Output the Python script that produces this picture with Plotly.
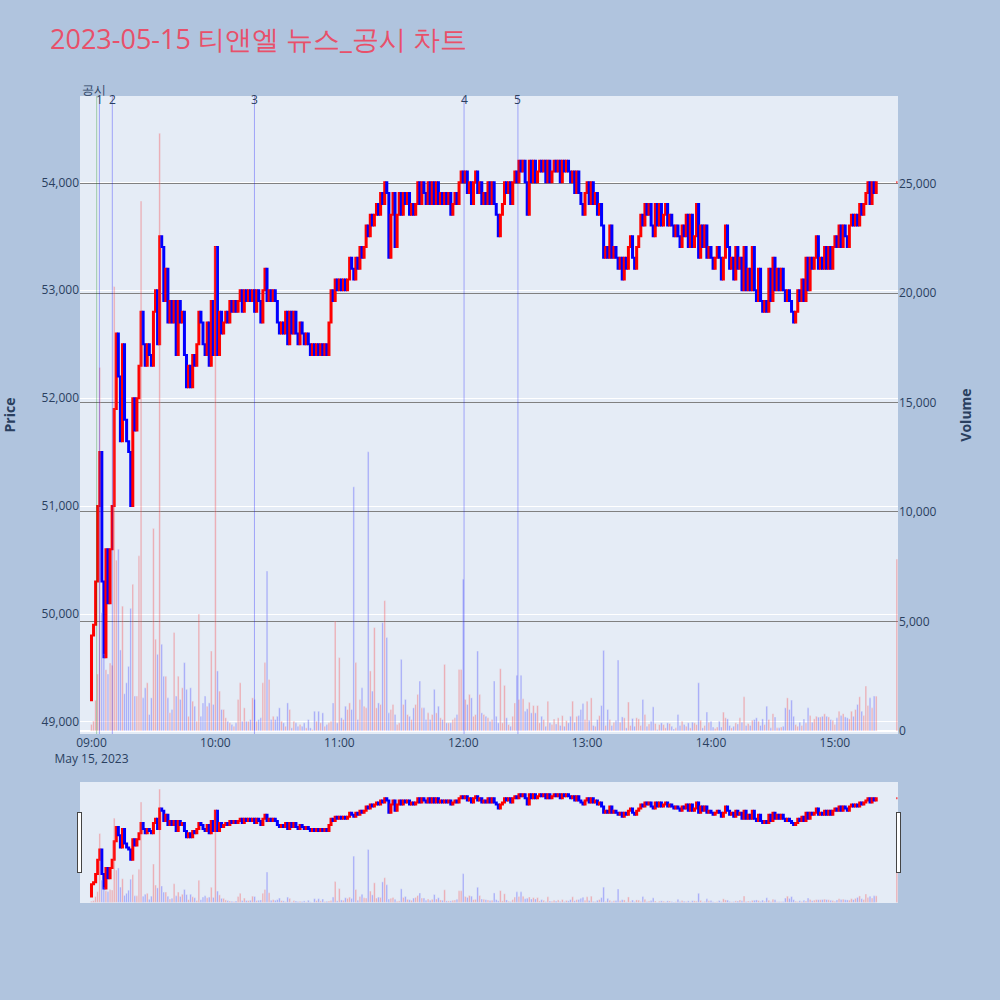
import pandas as pd
import plotly.graph_objects as go
from plotly.subplots import make_subplots

# 2023-05-15 티앤엘 1분봉 (09:00 ~ 15:20) + 15:30 종가
day = '2023-05-15'
first_open = 49200

close_prices = [
    49800, 49900, 50300, 51000, 51500, 50300, 49600, 50600, 50100, 50600,
    51000, 51900, 52600, 52200, 51600, 52500, 51800, 51600, 51500, 51000,
    52000, 51700, 52000, 52300, 52800, 52500, 52300, 52500, 52400, 52300,
    52800, 53000, 52500, 53500, 53400, 52900, 53200, 52700, 52900, 52700,
    52900, 52400, 52900, 52700, 52800, 52400, 52100, 52300, 52100, 52400,
    52300, 52500, 52800, 52700, 52500, 52400, 52700, 52300, 52900, 52400,
    53400, 52400, 52800, 52600, 52700, 52800, 52700, 52900, 52800, 52900,
    52800, 52900, 53000, 52800, 53000, 52900, 53000, 52900, 53000, 52800,
    53000, 52900, 52700, 53000, 53200, 52900, 53000, 52900, 53000, 52900,
    52700, 52600, 52700, 52600, 52800, 52500, 52800, 52600, 52800, 52600,
    52500, 52700, 52600, 52500, 52600, 52500, 52400, 52500, 52400, 52500,
    52400, 52500, 52400, 52500, 52400, 52700, 53000, 52900, 53100, 53000,
    53100, 53000, 53100, 53000, 53100, 53300, 53200, 53100, 53300, 53200,
    53400, 53300, 53400, 53600, 53500, 53700, 53600, 53700, 53800, 53700,
    53900, 53800, 54000, 53900, 53300, 53700, 53900, 53400, 53700, 53900,
    53700, 53900, 53800, 53900, 53700, 53800, 53700, 53800, 54000, 53800,
    54000, 53900, 53800, 54000, 53800, 54000, 53800, 54000, 53800, 53900,
    53800, 53900, 53800, 53900, 53700, 53800, 53900, 53800, 54000, 54100,
    54000, 54100, 53900, 54000, 53800, 54000, 54100, 53900, 54000, 53800,
    53900, 53800, 54000, 53800, 54000, 53800, 53700, 53500, 53700, 53800,
    54000, 53900, 54000, 53800, 54000, 54100, 54000, 54200, 54100, 54200,
    54000, 53700, 54200, 54000, 54200, 54000, 54100, 54200, 54100, 54200,
    54000, 54200, 54000, 54100, 54200, 54100, 54200, 54000, 54200, 54100,
    54200, 54100, 54000, 54100, 53900, 54100, 53900, 53800, 53700, 53900,
    54000, 53800, 54000, 53800, 53900, 53700, 53800, 53600, 53300, 53400,
    53300, 53600, 53300, 53400, 53300, 53200, 53300, 53100, 53300, 53200,
    53400, 53500, 53300, 53200, 53400, 53500, 53700, 53600, 53800, 53700,
    53800, 53600, 53500, 53800, 53600, 53800, 53600, 53700, 53800, 53600,
    53700, 53600, 53500, 53600, 53500, 53400, 53600, 53500, 53700, 53400,
    53700, 53400, 53500, 53800, 53300, 53600, 53400, 53600, 53300, 53400,
    53300, 53200, 53300, 53400, 53300, 53100, 53300, 53600, 53400, 53200,
    53300, 53100, 53400, 53200, 53300, 53000, 53400, 53000, 53200, 53000,
    53400, 53000, 52900, 53200, 52900, 52800, 52900, 52800, 53200, 52900,
    53300, 53000, 53200, 53000, 53200, 53000, 52900, 53000, 52900, 52800,
    52700, 52800, 53000, 52900, 53100, 52900, 53300, 53000, 53300, 53200,
    53300, 53500, 53200, 53300, 53200, 53400, 53200, 53400, 53200, 53400,
    53500, 53400, 53600, 53400, 53600, 53500, 53400, 53600, 53700, 53600,
    53700, 53600, 53800, 53700, 53800, 53900, 54000, 53800, 54000, 53900,
    54000,
]

volumes = [
    300, 450, 1400, 2600, 16600, 5400, 3500, 2800, 2600, 3100,
    3000, 20300, 7800, 8300, 3700, 5700, 1700, 2200, 2950, 5600,
    6700, 1590, 1590, 8000, 24200, 1510, 1970, 2200, 750, 1510,
    9250, 4190, 3500, 27300, 3960, 2500, 2500, 1510, 830, 980,
    4500, 1590, 2500, 1440, 1970, 3120, 1900, 670, 1970, 1360,
    1130, 445, 5340, 670, 1280, 1590, 1130, 1280, 3650, 1210,
    22100, 2740, 1820, 980, 980, 600, 445, 370, 290, 215,
    370, 1440, 2200, 445, 1055, 445, 445, 520, 1510, 1440,
    445, 520, 600, 2200, 3120, 7300, 2350, 520, 670, 520,
    670, 1055, 445, 370, 215, 1280, 980, 140, 445, 370,
    215, 290, 215, 370, 140, 520, 140, 60, 900, 445,
    900, 370, 825, 215, 290, 370, 445, 1280, 5020, 370,
    3350, 600, 520, 1130, 980, 1280, 980, 11150, 3120, 520,
    1440, 1970, 1130, 1055, 12750, 2740, 1820, 4720, 1055, 1280,
    1210, 4950, 5950, 4270, 825, 980, 1210, 750, 290, 370,
    3270, 1210, 1440, 750, 670, 520, 1055, 1210, 1670, 2280,
    1055, 1055, 520, 825, 520, 750, 1900, 825, 1130, 600,
    520, 3040, 370, 370, 370, 520, 600, 750, 2810, 2810,
    6930, 1440, 1210, 1670, 1510, 670, 750, 3650, 1670, 825,
    750, 670, 600, 445, 520, 2280, 670, 370, 2840, 370,
    2080, 600, 290, 215, 670, 1280, 2540, 1440, 2540, 1470,
    900, 1010, 1310, 825, 1160, 825, 1160, 370, 670, 520,
    215, 1360, 370, 290, 550, 320, 600, 250, 700, 215,
    475, 370, 670, 1360, 400, 670, 700, 980, 1250, 520,
    1360, 490, 1510, 250, 215, 520, 700, 1160, 3680, 250,
    980, 520, 250, 400, 490, 3240, 400, 640, 600, 140,
    1320, 250, 570, 215, 600, 550, 250, 1440, 750, 215,
    320, 445, 1100, 340, 60, 290, 370, 290, 140, 370,
    340, 215, 90, 140, 750, 250, 445, 290, 215, 370,
    140, 400, 370, 290, 2200, 490, 140, 250, 860, 400,
    445, 180, 110, 180, 445, 180, 860, 600, 550, 250,
    140, 215, 370, 320, 600, 400, 1560, 250, 340, 250,
    490, 520, 600, 445, 250, 550, 290, 1130, 520, 140,
    790, 640, 140, 140, 180, 215, 1055, 1510, 980, 1410,
    670, 290, 215, 400, 250, 550, 370, 1055, 700, 400,
    550, 670, 630, 640, 670, 780, 670, 640, 520, 490,
    290, 600, 900, 700, 790, 640, 600, 550, 900, 670,
    980, 1210, 1560, 900, 700, 2050, 1160, 1510, 1055, 1590,
    1590,
]

# 15:30 동시호가
auction_time = '15:30'
auction_price = 54000
auction_volume = 7850

# 공시 / 뉴스 시각
notice_time = '09:02:30'
news_times = ['09:03:50', '09:10:05', '10:18:55', '12:00:25', '12:26:30']
news_labels = ['1', '2', '3', '4', '5']

x_start = day + ' 08:54:26'
x_end = day + ' 15:30:33'

color_up = 'red'
color_down = 'blue'
font_title = {'size': 27, 'color': '#E8506A'}

#----------------------------------------------------------#
times = list(pd.date_range(day + ' 09:00', periods=len(close_prices), freq='min'))
times.append(pd.Timestamp(day + ' ' + auction_time))
closes = close_prices + [auction_price]
opens = [first_open] + closes[:-1]
highs = [max(o, c) for o, c in zip(opens, closes)]
lows = [min(o, c) for o, c in zip(opens, closes)]
vols = volumes + [auction_volume]
vol_colors = [color_up if c >= o else color_down for o, c in zip(opens, closes)]

fig = make_subplots(specs=[[{"secondary_y": True}]])

fig.add_trace(go.Candlestick(x=times,
                             open=opens,
                             high=highs,
                             low=lows,
                             close=closes,
                             increasing_line_color=color_up,
                             decreasing_line_color=color_down,
                             increasing_fillcolor=color_up,
                             decreasing_fillcolor=color_down,
                             name='가격'),
              secondary_y=False)

fig.add_trace(go.Bar(x=times, y=vols,
                     marker_color=vol_colors,
                     opacity=0.3,
                     name='거래량'),
              secondary_y=True)

# 공시 라인
fig.add_shape(type='line', xref='x', yref='paper',
              x0=day + ' ' + notice_time, x1=day + ' ' + notice_time, y0=0, y1=1,
              line=dict(color='green', width=1), opacity=0.3)
fig.add_annotation(x=day + ' ' + notice_time, y=1, xref='x', yref='paper',
                   text='공시', showarrow=False, yanchor='bottom',
                   xshift=-3, yshift=-4, font=dict(size=12, color='#2a3f5f'))

# 뉴스 라인
for t, label in zip(news_times, news_labels):
    fig.add_shape(type='line', xref='x', yref='paper',
                  x0=day + ' ' + t, x1=day + ' ' + t, y0=0, y1=1,
                  line=dict(color='blue', width=1), opacity=0.3)
    fig.add_annotation(x=day + ' ' + t, y=1, xref='x', yref='paper',
                       text=label, showarrow=False, yanchor='middle',
                       yshift=-3, font=dict(size=12, color='#2a3f5f'))

fig.update_layout(width=1000, height=1000,
                  paper_bgcolor='lightsteelblue',
                  showlegend=False,
                  margin=dict(l=80, r=102, t=96, b=98),
                  title=dict(text='2023-05-15 티앤엘 뉴스_공시 차트', font=font_title,
                             x=0.05, y=0.96, yanchor='middle'))

fig.update_xaxes(range=[x_start, x_end], domain=[0, 1], automargin=False,
                 rangeslider=dict(visible=True, bgcolor='#E5ECF6',
                                  range=[x_start, x_end]))
fig.update_yaxes(title=dict(text='<b>Price</b>', standoff=22), range=[48888, 54800],
                 dtick=1000, tickformat=',', automargin=False, secondary_y=False)
fig.update_yaxes(title=dict(text='<b>Volume</b>', standoff=25), range=[-140, 29000],
                 dtick=5000, tickformat=',', gridcolor='gray', automargin=False,
                 secondary_y=True)

fig.write_html("out.html", config={'displayModeBar': False},
               post_script="document.body.style.margin = '0px';")
